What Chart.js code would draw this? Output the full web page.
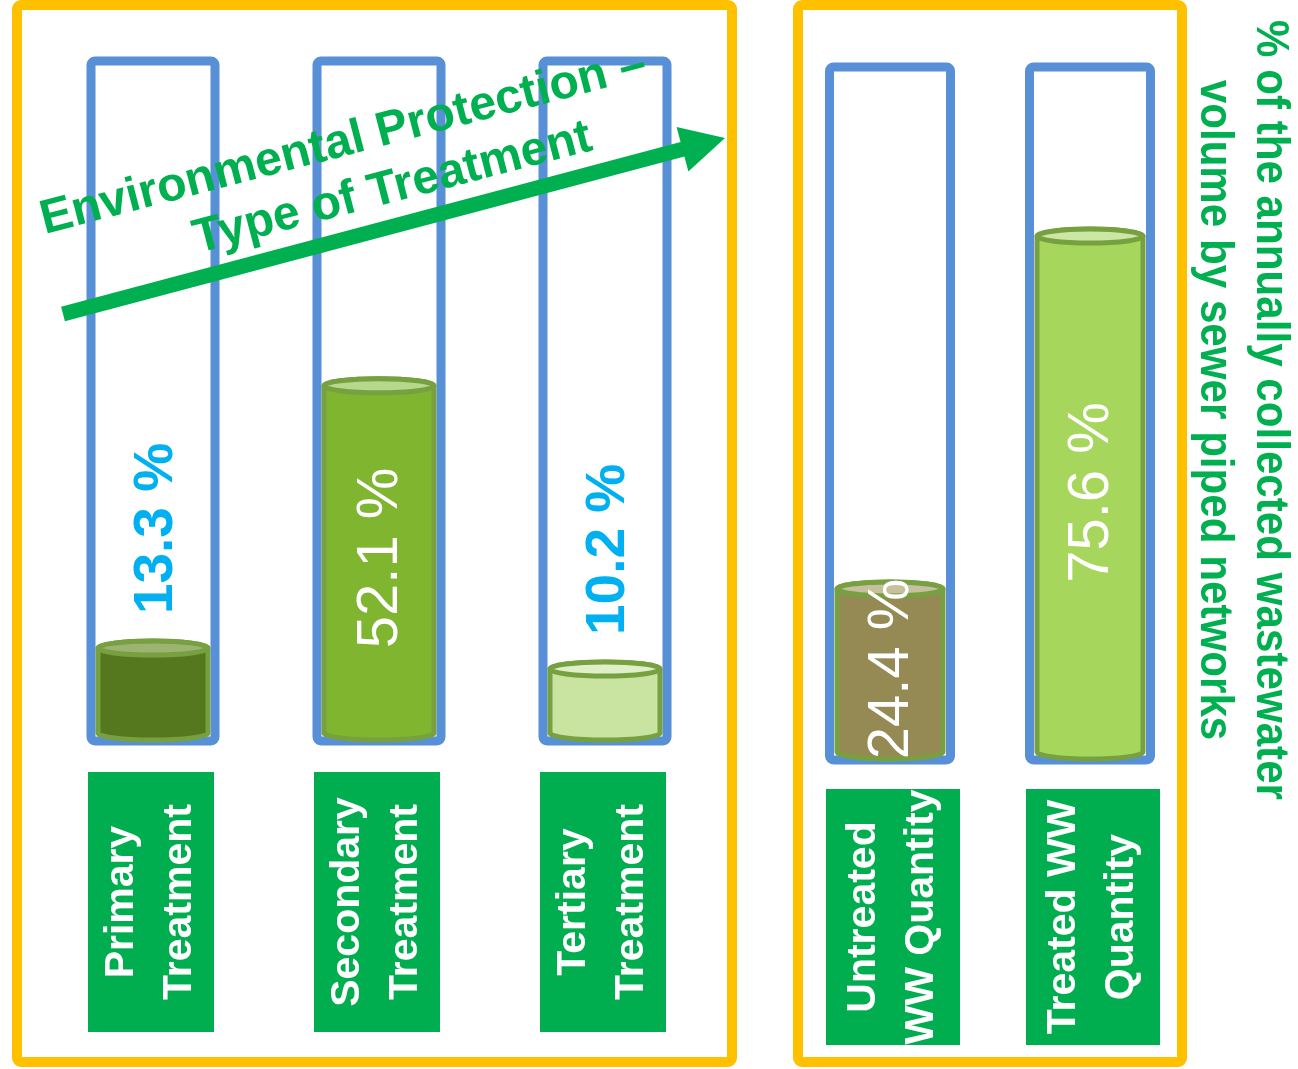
<!DOCTYPE html>
<html>
<head>
<meta charset="utf-8">
<script src="https://cdn.jsdelivr.net/npm/chart.js@4.4.1/dist/chart.umd.min.js"></script>
<style>
  html, body { margin: 0; padding: 0; background: #ffffff; }
  #wrap { position: relative; width: 1298px; height: 1069px; overflow: hidden; }
  canvas { position: absolute; top: 0; }
</style>
</head>
<body>
<div id="wrap">
  <canvas id="treatChart" width="760" height="1069" style="left:0"></canvas>
  <canvas id="qtyChart" width="538" height="1069" style="left:760px"></canvas>
</div>
<script>
// data
const treatmentLabels = [['Primary', 'Treatment'], ['Secondary', 'Treatment'], ['Tertiary', 'Treatment']];
const treatmentShares = [13.3, 52.1, 10.2];
const quantityLabels = [['Untreated', 'WW Quantity'], ['Treated WW', 'Quantity']];
const quantityShares = [24.4, 75.6];
const arrowTitle = ['Environmental Protection \u2013', 'Type of Treatment'];
const sideTitle = ['% of the annually collected wastewater', 'volume by sewer piped networks'];
const fullTube = 100;

const BLUE = '#5790D6';
const ORANGE = '#FFC000';
const LABEL_GREEN = '#00AD4F';
const TITLE_GREEN = '#00B050';
const RIM = '#77A040';

// body colour, lid colour for each cylinder
const treatmentFills = [['#55781E', '#9BB472'], ['#7FB52F', '#B7D78C'], ['#C9E4A1', '#DFF0C8']];
const quantityFills = [['#958A54', '#C6C09F'], ['#A6D65B', '#CBE7A3']];

function cylinder(ctx, x, top, base, w, ry, body, lid) {
  const l = x - w / 2, r = x + w / 2;
  ctx.save();
  ctx.lineWidth = 5;
  ctx.strokeStyle = RIM;
  ctx.fillStyle = body;
  ctx.beginPath();
  ctx.moveTo(l, top);
  ctx.lineTo(l, base);
  ctx.ellipse(x, base, w / 2, ry, 0, Math.PI, 0, true);
  ctx.lineTo(r, top);
  ctx.ellipse(x, top, w / 2, ry, 0, 0, Math.PI, true);
  ctx.closePath();
  ctx.fill();
  ctx.stroke();
  ctx.fillStyle = lid;
  ctx.beginPath();
  ctx.ellipse(x, top, w / 2, ry, 0, 0, Math.PI * 2);
  ctx.fill();
  ctx.stroke();
  ctx.restore();
}

function makeDecor(o) {
  return {
    id: 'decor',
    beforeDatasetsDraw(chart) {
      const ctx = chart.ctx, y = chart.scales.y;
      ctx.save();
      // orange frame
      ctx.strokeStyle = ORANGE;
      ctx.lineWidth = 10;
      ctx.beginPath();
      ctx.roundRect(o.frame[0], o.frame[1], o.frame[2], o.frame[3], 4);
      ctx.stroke();
      // empty tubes
      ctx.strokeStyle = BLUE;
      ctx.lineWidth = 9;
      chart.getDatasetMeta(0).data.forEach(el => {
        const top = y.getPixelForValue(fullTube) - 1;
        const bot = y.getPixelForValue(0) + 3;
        ctx.beginPath();
        ctx.roundRect(el.x - o.tubeW / 2, top, o.tubeW, bot - top, 4);
        ctx.stroke();
      });
      ctx.restore();
    },
    afterDatasetsDraw(chart) {
      const ctx = chart.ctx;
      const ds = chart.data.datasets[0];
      chart.getDatasetMeta(0).data.forEach((el, i) => {
        const v = ds.data[i];
        cylinder(ctx, el.x, el.y, el.base - 5, el.width, 7, o.fills[i][0], o.fills[i][1]);

        // value label, rotated
        ctx.save();
        if (v >= 20) {
          ctx.translate(el.x + 2, (el.y + el.base) / 2 - 4);
          ctx.rotate(-Math.PI / 2);
          ctx.font = '58px "Liberation Sans", Arial, sans-serif';
          ctx.fillStyle = '#ffffff';
          ctx.textAlign = 'center';
        } else {
          ctx.translate(el.x + 4, el.y - 34);
          ctx.rotate(-Math.PI / 2);
          ctx.font = 'bold 55px "Liberation Sans", Arial, sans-serif';
          ctx.fillStyle = '#00B0F0';
          ctx.textAlign = 'left';
        }
        ctx.textBaseline = 'middle';
        ctx.fillText(v.toFixed(1) + ' %', 0, 0);
        ctx.restore();

        // category box under the tube
        const lines = chart.data.labels[i];
        ctx.save();
        ctx.fillStyle = LABEL_GREEN;
        ctx.fillRect(el.x - o.boxW / 2 + o.boxShift, o.boxTop, o.boxW, o.boxH);
        ctx.translate(el.x + o.boxShift, o.boxTop + o.boxH / 2);
        ctx.rotate(-Math.PI / 2);
        ctx.font = 'bold 41px "Liberation Sans", Arial, sans-serif';
        ctx.fillStyle = '#ffffff';
        ctx.textAlign = 'center';
        ctx.textBaseline = 'middle';
        lines.forEach((t, k) => ctx.fillText(t, 0, (k - (lines.length - 1) / 2) * 58));
        ctx.restore();
      });
      if (o.extra) o.extra(ctx);
    }
  };
}

function drawArrow(ctx) {
  const tail = [63, 314], tip = [725, 138];
  const dx = tip[0] - tail[0], dy = tip[1] - tail[1];
  const len = Math.hypot(dx, dy), ux = dx / len, uy = dy / len;
  const headL = 44, headW = 23;
  const bx = tip[0] - ux * headL, by = tip[1] - uy * headL;
  ctx.save();
  ctx.strokeStyle = TITLE_GREEN;
  ctx.fillStyle = TITLE_GREEN;
  ctx.lineWidth = 15;
  ctx.beginPath();
  ctx.moveTo(tail[0], tail[1]);
  ctx.lineTo(bx + ux * 2, by + uy * 2);
  ctx.stroke();
  ctx.beginPath();
  ctx.moveTo(tip[0], tip[1]);
  ctx.lineTo(bx - uy * headW, by + ux * headW);
  ctx.lineTo(bx + uy * headW, by - ux * headW);
  ctx.closePath();
  ctx.fill();

  ctx.translate(364, 166);
  ctx.rotate(-14.6 * Math.PI / 180);
  ctx.font = 'bold 48px "Liberation Sans", Arial, sans-serif';
  ctx.textAlign = 'center';
  ctx.textBaseline = 'middle';
  ctx.fillText(arrowTitle[0], -14, -28);
  ctx.fillText(arrowTitle[1], 22, 29);
  ctx.restore();
}

function drawSideTitle(ctx) {
  const face = 'bold 46px "Liberation Sans", Arial, sans-serif';
  ctx.save();
  ctx.translate(1242 - 760, 410);
  ctx.rotate(Math.PI / 2);
  ctx.fillStyle = TITLE_GREEN;
  ctx.textAlign = 'center';
  ctx.textBaseline = 'middle';
  ctx.font = face;
  // squeeze along the text to get the narrow look of the original
  const k = 780 / ctx.measureText(sideTitle[0]).width;
  ctx.scale(k, 1);
  ctx.fillText(sideTitle[0], 0, -28);
  ctx.fillText(sideTitle[1], 0, 28);
  ctx.restore();
}

function buildChart(id, labels, values, pad, barW, decor) {
  return new Chart(document.getElementById(id), {
    type: 'bar',
    data: {
      labels: labels,
      datasets: [{
        label: 'Share (%)',
        data: values,
        backgroundColor: 'rgba(0,0,0,0)',
        borderWidth: 0,
        barThickness: barW
      }]
    },
    options: {
      responsive: false,
      animation: false,
      layout: { padding: pad },
      scales: {
        x: { display: false },
        y: { display: false, min: 0, max: fullTube }
      },
      plugins: { legend: { display: false }, tooltip: { enabled: false } }
    },
    plugins: [makeDecor(decor)]
  });
}

buildChart('treatChart', treatmentLabels, treatmentShares,
  { top: 62, bottom: 331, left: 40, right: 42 }, 110,
  { frame: [17, 5, 715, 1057], tubeW: 124, fills: treatmentFills, boxTop: 772, boxH: 260, boxW: 126, boxShift: -2, extra: drawArrow });

buildChart('qtyChart', quantityLabels, quantityShares,
  { top: 68, bottom: 312, left: 30, right: 108 }, 106,
  { frame: [38, 5, 384, 1057], tubeW: 121, fills: quantityFills, boxTop: 789, boxH: 256, boxW: 134, boxShift: 3, extra: drawSideTitle });
</script>
</body>
</html>
